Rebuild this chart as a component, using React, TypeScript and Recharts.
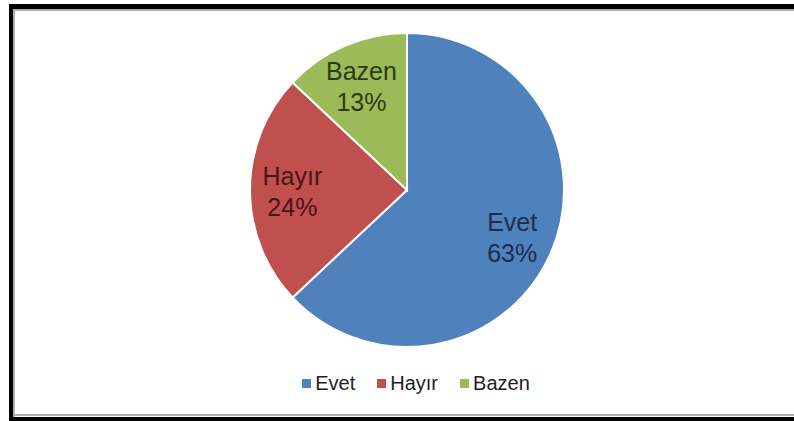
import { Legend, Pie, PieChart, Cell } from 'recharts'

const categories = ['Evet', 'Hayır', 'Bazen']
const values = [63, 24, 13]
const sliceColors = ['#4f81bd', '#c0504d', '#9bbb59']
const labelColors = ['#1b2e52', '#4a1514', '#2c3b14']

const data = categories.map((name, i) => ({ name, value: values[i] }))

const RADIAN = Math.PI / 180

function SliceLabel(props: any) {
  const { cx, cy, midAngle, outerRadius, index, name, value } = props
  const r = outerRadius * 0.73
  const x = cx + r * Math.cos(-midAngle * RADIAN)
  const y = cy + r * Math.sin(-midAngle * RADIAN)
  return (
    <text
      x={x}
      y={y}
      textAnchor="middle"
      fill={labelColors[index]}
      style={{ fontFamily: '"Liberation Sans", Arial, sans-serif', fontSize: 25 }}
    >
      <tspan x={x} dy={-5}>{name}</tspan>
      <tspan x={x} dy={31}>{value}%</tspan>
    </text>
  )
}

function BottomLegend() {
  return (
    <div
      style={{
        display: 'flex',
        justifyContent: 'center',
        gap: 22,
        fontFamily: '"Liberation Sans", Arial, sans-serif',
        fontSize: 20,
        color: '#1e1e1e',
      }}
    >
      {categories.map((name, i) => (
        <span key={name} style={{ display: 'inline-flex', alignItems: 'center', gap: 4 }}>
          <span style={{ width: 9, height: 9, background: sliceColors[i], display: 'inline-block' }} />
          {name}
        </span>
      ))}
    </div>
  )
}

export default function App() {
  return (
    <div style={{ position: 'fixed', top: 0, left: 0, width: 794, height: 421, background: '#fff', overflow: 'hidden' }}>
      <PieChart width={794} height={421} style={{ position: 'absolute', top: 0, left: 0 }}>
        <Pie
          data={data}
          dataKey="value"
          nameKey="name"
          cx={402}
          cy={185}
          outerRadius={157}
          startAngle={90}
          endAngle={-270}
          stroke="#ffffff"
          strokeWidth={2}
          label={<SliceLabel />}
          labelLine={false}
          isAnimationActive={false}
        >
          {data.map((d, i) => (
            <Cell key={d.name} fill={sliceColors[i]} />
          ))}
        </Pie>
        <Legend
          content={<BottomLegend />}
          wrapperStyle={{ position: 'absolute', top: 372, left: 0, width: 832 }}
        />
      </PieChart>
      <div style={{ position: 'absolute', top: 4, left: 9, width: 785, height: 5, background: '#000' }} />
      <div style={{ position: 'absolute', top: 4, left: 9, width: 4, height: 417, background: '#000' }} />
      <div style={{ position: 'absolute', top: 417, left: 9, width: 785, height: 4, background: '#000' }} />
      <div style={{ position: 'absolute', top: 9, left: 13, width: 781, height: 2, background: '#b0b0b0' }} />
      <div style={{ position: 'absolute', top: 9, left: 13, width: 2, height: 408, background: '#b0b0b0' }} />
      <div style={{ position: 'absolute', top: 414, left: 13, width: 781, height: 2, background: '#b0b0b0' }} />
    </div>
  )
}
